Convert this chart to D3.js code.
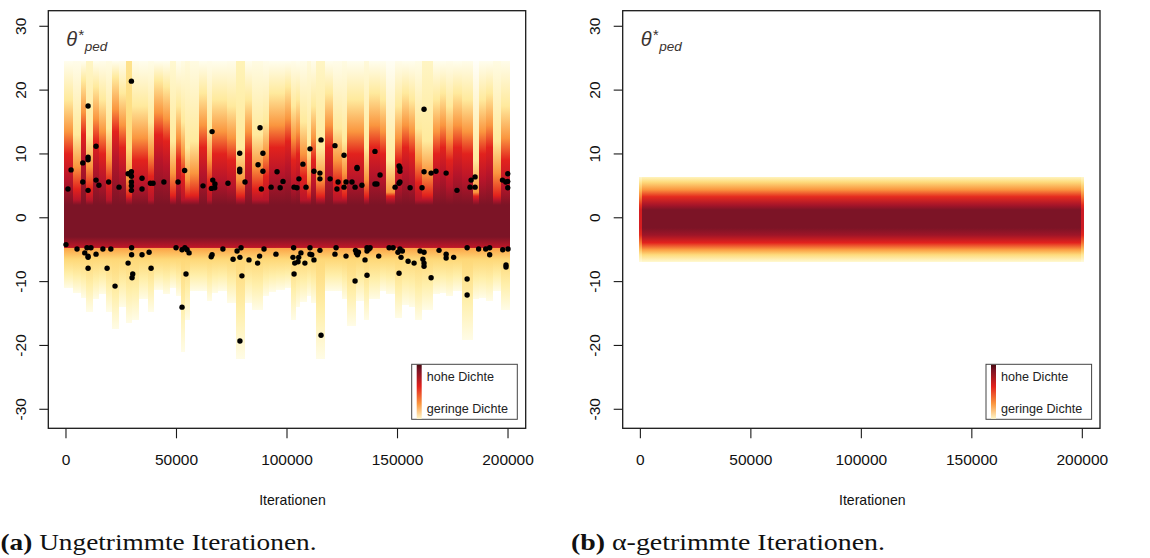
<!DOCTYPE html>
<html><head><meta charset="utf-8">
<script src="https://cdn.jsdelivr.net/npm/d3@7"></script>
<style>body{margin:0;background:#fff}svg{display:block}</style>
</head><body>
<svg id="c" width="1150" height="558"></svg>
<script>
// ---------- data ----------
const xTicks = [0, 50000, 100000, 150000, 200000];
const yTicks = [-30, -20, -10, 0, 10, 20, 30];
const xLabel = "Iterationen";
const legendLabels = ["hohe Dichte", "geringe Dichte"];
const captions = [["(a)", " Ungetrimmte Iterationen."], ["(b)", " α-getrimmte Iterationen."]];

// left panel: density strips (boundaries in 1000 iterations)
const stripBoundsK = [-0.7,3,7,9,12,15,18,21,24,27,30,33,37,40,44,47,50,52,54,56,60,64,66,69,73,77,81,84,89,92,95,99,102,104,106,109,111,113,117,121,125,127,131,135,137,142,145,149,152,155,158,161,166,169,172,175,179,184,187,190,193,197,201];
const stripLow = [-11,-11.8,-12.5,-14.7,-12.8,-12,-14.7,-17.5,-14,-16.5,-16,-12.8,-14.7,-11.3,-12,-11,-12.2,-21,-16,-11.5,-11.5,-13,-11.8,-11.5,-13.3,-22.2,-13.3,-14.4,-12.2,-11.6,-11.3,-11,-16,-14,-13.2,-12.2,-13.3,-22.2,-11.5,-11.5,-12.8,-16.9,-13,-16,-12.8,-11.5,-12,-15.7,-13.6,-14,-16,-14.4,-12,-11.8,-12.3,-11.5,-19.1,-12.8,-12.5,-13,-11.5,-14.4];
// value where each strip turns orange (upper half)
const stripUpper = [13.5,8,16.5,8,15.5,13.5,9,17,14.5,6,12.5,12.5,10,16.5,15.5,7,12.5,10,6,7,14.5,9,13.5,13.5,12.5,6,13.5,8,10,14.5,14.5,15.5,12.5,13.5,10,6,12.5,6,14.5,9,7,13.5,13.5,6,14.5,13.5,4,12.5,14.5,13.5,9,7,13.5,14.5,12.5,14.5,13.5,4,13.5,14.5,7,12.5];
const stripTopLevel = [0.05,0.06,0.05,0.15,0.05,0.06,0.08,0.05,0.06,0.28,0.06,0.05,0.07,0.05,0.05,0.12,0.05,0.08,0.1,0.08,0.05,0.06,0.05,0.05,0.06,0.18,0.05,0.08,0.06,0.05,0.05,0.05,0.06,0.05,0.06,0.1,0.06,0.15,0.05,0.06,0.08,0.05,0.05,0.1,0.05,0.05,0.03,0.06,0.05,0.05,0.07,0.15,0.05,0.05,0.06,0.05,0.06,0.02,0.05,0.05,0.08,0.06];
const stripTopValue = 24.5;
const coreValues = [2.0, -3.0, -4.65, -4.8, -6.5];
const coreLevels = [1.0, 1.0, 0.84, 0.48, 0.33];

// left panel: sampled points (iterations in 1000)
const dotIterK = [0.9,2.3,7.6,7.6,10,10,10,10,13.6,13.6,14.9,19.3,24,28.1,29.6,29.6,29.6,29.6,29.6,29.6,34.4,34.4,38.2,39.4,44.3,50.7,53.7,62,65.8,66.1,66.4,67.4,67.3,73.3,78.6,78.6,78.6,81,86.9,87.8,88.4,89.1,89.1,92.8,95.5,96.9,98.2,103.2,104.5,105.4,107.2,108.6,110.4,112.2,114.9,114.9,115.4,119.5,121.7,122.6,123.1,125.8,125.8,126.7,129.4,130.8,131.7,131.7,133.9,139.8,139.8,140.7,142.1,148.9,150.7,151.1,151.1,150.7,151.1,155.7,161.1,162,162,165.2,167.4,172,176.9,182.8,185.1,183.3,185.1,197.5,199,199.9,199.9,199.9,
0,5,8.5,9.5,10,10,11.3,10,13.6,16.7,18.6,20.3,22.2,28.1,29.7,29.7,30.2,29.9,34.4,37.6,38.5,49.8,52.5,53.8,54.8,55.7,54.3,52.5,65.7,66.1,71,75.6,77.4,78.7,79.2,79.6,78.7,82.8,86.7,87.6,89.6,95,103,102.7,103.5,103.2,105,105.3,106.3,108.1,110.4,110.4,111.2,112.2,114.9,115.4,121.7,122.2,126.7,130.8,131,131.4,131.9,132.3,135.3,136.2,136.2,136.2,137.1,137.6,141.5,146.2,148,150.2,151.1,152.2,150.7,151.6,154.8,157.5,160.2,162,161.5,162,162,165.2,168.8,172,172,175.4,181.5,181.5,181.5,186.7,189.9,191.7,191.7,197.6,200,199.1,199.1];
const dotValue = [4.5,7.5,8.6,5.6,17.5,9.5,9.1,4.3,11.2,5.9,5.1,5.6,4.8,6.9,21.4,7.2,6.5,5.6,5.0,4.3,6.2,4.5,5.4,5.4,5.6,5.6,7.4,5.0,4.6,13.5,5.9,5.3,4.7,5.4,10.1,7.6,7.2,5.6,8.3,14.1,4.5,10.1,7.3,4.8,7.2,4.7,5.7,4.8,4.7,6.1,8.4,4.8,10.8,7.3,7.0,6.1,12.2,6.1,11.3,4.5,5.6,9.8,4.8,5.6,5.6,4.8,7.9,7.7,5.1,10.4,5.3,5.3,6.7,4.8,8.1,7.8,7.3,5.4,5.6,4.7,4.7,17.0,7.2,7.0,7.3,7.0,4.3,4.8,4.8,5.9,6.4,5.9,5.6,5.7,6.9,4.7,
-4.2,-4.9,-5.5,-4.7,-6.0,-6.2,-4.7,-7.9,-5.7,-4.9,-7.9,-4.9,-10.7,-7.1,-4.7,-5.8,-8.8,-9.4,-5.8,-5.4,-7.9,-4.7,-5.0,-4.7,-5.0,-5.5,-8.8,-14.0,-6.1,-5.8,-4.9,-6.5,-5.2,-6.2,-4.7,-9.1,-19.3,-6.6,-7.1,-6.0,-4.9,-5.7,-4.7,-6.2,-7.1,-8.8,-6.9,-6.2,-5.5,-7.1,-4.7,-5.7,-5.8,-6.6,-5.1,-18.4,-5.7,-4.7,-6.0,-9.9,-5.1,-5.5,-5.8,-5.4,-6.6,-9.0,-4.7,-5.2,-4.9,-4.7,-6.0,-4.7,-4.7,-5.4,-4.9,-5.2,-8.7,-6.2,-6.8,-7.1,-5.2,-5.4,-6.5,-7.1,-7.6,-9.4,-5.1,-5.7,-6.3,-6.2,-4.7,-9.6,-12.1,-4.9,-4.9,-4.7,-5.8,-5.0,-4.9,-7.4,-7.7];

// right panel: one trimmed density band (iterations in 1000)
const bandStartK = [-0.7, 0.9, 199.5];
const bandEndK = [0.9, 199.5, 200.7];
const bandGain = [0.78, 1.0, 0.8];
const bandValues = [6.4, 5.6, 4.4, 3.3, 2.0, 1.25, -1.6, -2.7, -3.9, -5.0, -5.8, -6.85];
const bandLevels = [0.16, 0.32, 0.52, 0.72, 0.9, 1.0, 1.0, 0.92, 0.74, 0.5, 0.32, 0.13];

// ---------- drawing ----------
const svg = d3.select("#c");
const defs = svg.append("defs");
const color = d3.scaleLinear()
  .domain([0, 0.08, 0.2, 0.32, 0.45, 0.55, 0.65, 0.74, 0.86, 1])
  .range(["#ffffff","#fffbe2","#fff1ae","#fedb7c","#fdb04c","#f98b3a","#ef4b25","#e2221d","#b8152a","#7c1426"])
  .clamp(true);
const SANS = "Liberation Sans, Arial, Helvetica, sans-serif";

const plotTop = 10.7, plotBottom = 428.3;
const panels = [{left: 48.3, right: 525.7, tickX: 20.8, labelX: 292.5, capX: 0.5, capW: 316},
                {left: 622.7, right: 1100, tickX: 594.5, labelX: 872.3, capX: 571, capW: 314}];
const y = d3.scaleLinear().domain([-32.98, 32.44]).range([plotBottom, plotTop]);
let gid = 0;
function gradient(stops) {
  const id = "g" + (gid++);
  const y1 = y(stops[0][0]), y2 = y(stops[stops.length - 1][0]);
  const g = defs.append("linearGradient").attr("id", id)
    .attr("gradientUnits", "userSpaceOnUse")
    .attr("x1", 0).attr("x2", 0).attr("y1", y1).attr("y2", y2);
  stops.forEach(s => g.append("stop")
    .attr("offset", ((y(s[0]) - y1) / (y2 - y1)).toFixed(4))
    .attr("stop-color", color(s[1])));
  return id;
}

panels.forEach((p, pi) => {
  const x = d3.scaleLinear().domain([-8000, 208000]).range([p.left, p.right]);
  const g = svg.append("g").attr("shape-rendering", "crispEdges");

  if (pi === 0) {
    const strips = stripLow.map((lo, i) => ({x0: stripBoundsK[i] * 1000, x1: stripBoundsK[i + 1] * 1000,
      lo, up: stripUpper[i], tl: stripTopLevel[i]}));
    g.selectAll("rect.strip").data(strips).join("rect")
      .attr("x", d => Math.round(x(d.x0)))
      .attr("width", d => Math.round(x(d.x1)) - Math.round(x(d.x0)))
      .attr("y", y(stripTopValue))
      .attr("height", d => y(d.lo) - y(stripTopValue))
      .attr("fill", d => {
        const stops = [[stripTopValue, d.tl],
                       [Math.min(d.up + 5, 22), Math.max(d.tl + 0.04, 0.24)],
                       [d.up, 0.52],
                       [Math.max(d.up - 3.5, 3.4), 0.74],
                       [Math.max(d.up - 7.5, 2.8), 0.86]];
        coreValues.forEach((v, k) => stops.push([v, coreLevels[k]]));
        stops.push([(-6.5 + d.lo) / 2, 0.21], [d.lo, 0.07]);
        return "url(#" + gradient(stops) + ")";
      });
    svg.append("g").selectAll("circle").data(dotIterK.map((k, i) => [k * 1000, dotValue[i]])).join("circle")
      .attr("cx", d => x(d[0])).attr("cy", d => y(d[1])).attr("r", 2.7).attr("fill", "#000");
  } else {
    const bands = bandStartK.map((s, i) => ({x0: s * 1000, x1: bandEndK[i] * 1000, gain: bandGain[i]}));
    g.selectAll("rect.band").data(bands).join("rect")
      .attr("x", d => Math.round(x(d.x0))).attr("width", d => Math.round(x(d.x1)) - Math.round(x(d.x0)))
      .attr("y", y(bandValues[0]))
      .attr("height", y(bandValues[bandValues.length - 1]) - y(bandValues[0]))
      .attr("fill", d => "url(#" + gradient(bandValues.map((v, k) => [v, bandLevels[k] * d.gain])) + ")");
  }

  // frame
  svg.append("rect").attr("x", p.left).attr("y", plotTop)
    .attr("width", p.right - p.left).attr("height", plotBottom - plotTop)
    .attr("fill", "none").attr("stroke", "#1a1a1a").attr("stroke-width", 1.3);

  // y axis
  const ya = svg.append("g").attr("font-family", SANS).attr("font-size", 15.5).attr("fill", "#111");
  yTicks.forEach(v => {
    ya.append("line").attr("x1", p.left - 9).attr("x2", p.left).attr("y1", y(v)).attr("y2", y(v))
      .attr("stroke", "#1a1a1a").attr("stroke-width", 1.1);
    ya.append("text").attr("transform", `translate(${p.tickX},${y(v)}) rotate(-90)`)
      .attr("text-anchor", "middle").attr("dy", "0.36em").text(v);
  });
  // x axis
  const xa = svg.append("g").attr("font-family", SANS).attr("font-size", 15.5).attr("fill", "#111");
  xTicks.forEach(v => {
    xa.append("line").attr("x1", x(v)).attr("x2", x(v)).attr("y1", plotBottom).attr("y2", plotBottom + 10)
      .attr("stroke", "#1a1a1a").attr("stroke-width", 1.1);
    xa.append("text").attr("x", x(v)).attr("y", 465).attr("text-anchor", "middle").text(v);
  });
  svg.append("text").attr("x", p.labelX).attr("y", 505).attr("text-anchor", "middle")
    .attr("font-family", SANS).attr("font-size", 14.1).attr("fill", "#111").text(xLabel);

  // panel title θ*_ped
  const tx = p.left + 18;
  const t = svg.append("text").attr("y", 46)
    .attr("font-family", SANS).attr("font-style", "italic").attr("fill", "#3b3330");
  t.append("tspan").attr("x", tx).attr("font-size", 20).text("θ");
  t.append("tspan").attr("x", tx + 11.5).attr("font-size", 15).attr("dy", -6).text("*");
  t.append("tspan").attr("x", tx + 18.5).attr("font-size", 13.5).attr("dy", 11).text("ped");

  // legend
  const lx = p.right - 114, ly = 364.3, lw = 105.6, lh = 55;
  const lid = "leg" + pi;
  const lg = defs.append("linearGradient").attr("id", lid).attr("x1", 0).attr("x2", 0).attr("y1", 0).attr("y2", 1);
  [[0, "#4a0a10"], [0.1, color(1)], [0.4, color(0.74)], [0.72, color(0.52)], [1, color(0.14)]]
    .forEach(s => lg.append("stop").attr("offset", s[0]).attr("stop-color", s[1]));
  svg.append("rect").attr("x", lx).attr("y", ly).attr("width", lw).attr("height", lh)
    .attr("fill", "#fff").attr("stroke", "#444").attr("stroke-width", 1);
  svg.append("rect").attr("x", lx + 5).attr("y", ly + 0.5).attr("width", 5).attr("height", lh - 1)
    .attr("fill", `url(#${lid})`);
  legendLabels.forEach((s, i) => svg.append("text").attr("x", lx + 15).attr("y", ly + 17 + i * 32)
    .attr("font-family", SANS).attr("font-size", 12.6).attr("fill", "#222").text(s));

  // caption
  const c = svg.append("text").attr("x", p.capX).attr("y", 550)
    .attr("font-family", "Liberation Serif, Times New Roman, serif").attr("font-size", 24).attr("fill", "#111")
    .attr("textLength", p.capW).attr("lengthAdjust", "spacingAndGlyphs");
  c.append("tspan").attr("font-weight", "bold").text(captions[pi][0]);
  c.append("tspan").text(captions[pi][1]);
});
</script>
</body></html>
